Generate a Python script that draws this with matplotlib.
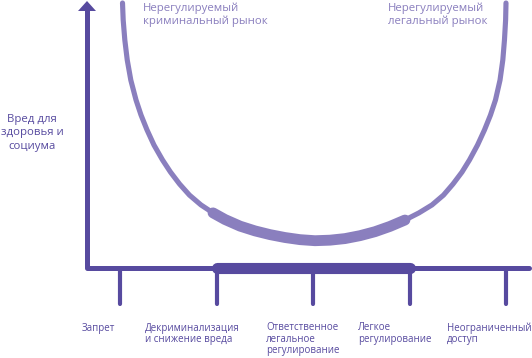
import numpy as np
import matplotlib
matplotlib.use('Agg')
import matplotlib.pyplot as plt

# policy regimes along the x axis (index 0..4)
categories = ['Запрет', 'Декриминализация\nи снижение вреда',
              'Ответственное\nлегальное\nрегулирование', 'Легкое\nрегулирование',
              'Неограниченный\nдоступ']
cat_pos = [0, 1, 2, 3, 4]

# harm curve (x = regime index, y = harm, 0..100)
curve_x = [0.026, 0.033, 0.050, 0.075, 0.112, 0.166, 0.218, 0.280, 0.352, 0.440,
           0.523, 0.617, 0.720, 0.839, 0.964, 1.088, 1.244, 1.399, 1.554, 1.710,
           1.865, 2.021, 2.176, 2.332, 2.487, 2.642, 2.798, 2.953, 3.098, 3.233,
           3.352, 3.451, 3.544, 3.622, 3.705, 3.777, 3.839, 3.891, 3.938, 3.967,
           3.984, 3.996, 4.000]
curve_y = [100.0, 93.6, 86.0, 78.5, 70.9, 63.4, 57.7, 52.1, 46.4, 40.8,
           36.2, 31.7, 27.5, 23.8, 20.8, 18.3, 15.8, 14.0, 12.6, 11.5,
           10.7, 10.3, 10.5, 11.1, 12.2, 13.7, 15.7, 18.1, 20.8, 23.8,
           27.5, 31.7, 36.2, 40.8, 46.4, 52.1, 57.7, 63.4, 70.9, 78.5,
           86.0, 93.6, 100.0]

# range of regimes highlighted on the curve and on the axis
best_range = [1, 3]

y_label = 'Вред для\nздоровья и\nсоциума'
left_top = 'Нерегулируемый\nкриминальный рынок'
right_top = 'Нерегулируемый\nлегальный рынок'

dark = '#574a9f'
light = '#8a7fbe'

plt.rcParams['font.family'] = ['Open Sans', 'DejaVu Sans']

fig = plt.figure(figsize=(5.32, 3.58), dpi=100)
ax = fig.add_axes([0, 0, 1, 1])
# pixel -> data: x = (px-120)/96.5, y = (268-py)/2.65
sx, sy = 96.5, 2.65
def px(v):
    return (v - 120) / sx
def py(v):
    return (268 - v) / sy

ax.set_xlim(px(0), px(532))
ax.set_ylim(py(358), py(0))
ax.axis('off')

# curve
cx = np.array(curve_x)
cy = np.array(curve_y)
ax.plot(cx, cy, color=light, lw=3.7, solid_capstyle='round', solid_joinstyle='round', zorder=2)
m = (cx >= best_range[0] - 0.05) & (cx <= best_range[1] + 0.05)
ax.plot(cx[m], cy[m], color=light, lw=7.8, solid_capstyle='round', solid_joinstyle='round', zorder=2)

# axes
x0 = px(87)
ax.plot([x0, x0], [0, py(10)], color=dark, lw=3.6, solid_capstyle='butt', zorder=3)
ax.fill([px(78), px(96), x0], [py(11), py(11), py(1)], color=dark, lw=0, zorder=3)
ax.plot([x0, px(529)], [0, 0], color=dark, lw=3.6, solid_capstyle='round', zorder=3)
ax.plot(best_range, [0, 0], color=dark, lw=8, solid_capstyle='round', zorder=3)

for p in cat_pos:
    ax.plot([p, p], [0, py(304)], color=dark, lw=3.0, solid_capstyle='round', zorder=3)

label_left = [82, 145, 266, 358, 447]
for lx, lab in zip(label_left, categories):
    ax.text(px(lx), py(322.5), lab, ha='left', va='top',
            fontsize=7.0, color=dark, linespacing=1.02)

ax.text(px(32), py(133), y_label, ha='center', va='center',
        fontsize=8.2, color=dark, linespacing=1.3)

ax.text(px(143), py(3), left_top, ha='left', va='top',
        fontsize=8.2, color=light, linespacing=1.1)
ax.text(px(388), py(3), right_top, ha='left', va='top',
        fontsize=8.2, color=light, linespacing=1.1)

fig.savefig('out.png', dpi=100)
